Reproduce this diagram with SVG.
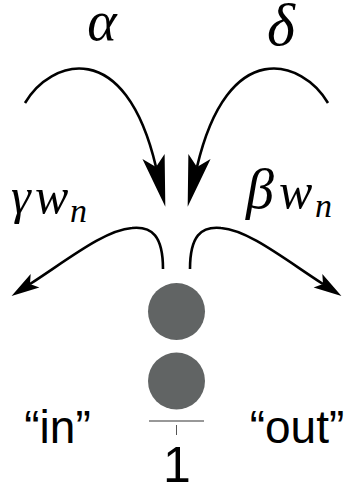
<svg xmlns="http://www.w3.org/2000/svg" width="349" height="485" viewBox="0 0 349 485">
<style>
.arr{fill:none;stroke:#000;stroke-width:2.6}
.m{font-family:"Liberation Serif",serif;font-style:italic;fill:#000}
.s{font-family:"Liberation Sans",sans-serif;fill:#000}
.dot{fill:#616464}
</style>
<defs>
<marker id="big" markerUnits="userSpaceOnUse" orient="auto" refX="0" refY="0" markerWidth="60" markerHeight="30" viewBox="-12 -12 50 24" overflow="visible">
<path d="M34,0 L-9,-9.5 L0,0 L-9,9.5 Z" fill="#000"/>
</marker>
<marker id="small" markerUnits="userSpaceOnUse" orient="auto" refX="0" refY="0" markerWidth="40" markerHeight="20" viewBox="-8 -10 34 20" overflow="visible">
<path d="M22,0 L-6,-8 L0,0 L-6,8 Z" fill="#000"/>
</marker>
</defs>
<g id="connectors">
<path class="arr" d="M25,103 C50,60 125,35 156,167" marker-end="url(#big)"/>
<path class="arr" d="M328,103 C303,60 228,35 197,167" marker-end="url(#big)"/>
<path class="arr" d="M163,269 C163,236 152,226 132,228 C105,230 70,258 30,284" marker-end="url(#small)"/>
<path class="arr" d="M190,269 C190,236 201,226 221,228 C248,230 283,258 323,284" marker-end="url(#small)"/>
</g>
<g id="label-alpha"><text class="m" x="102" y="40" font-size="56" text-anchor="middle">α</text></g>
<g id="label-delta"><text class="m" x="281" y="45" font-size="60" text-anchor="middle">δ</text></g>
<g id="label-gamma"><text class="m" y="213" font-size="50"><tspan x="11">γ</tspan><tspan x="35">w</tspan><tspan x="70" dy="9" font-size="34">n</tspan></text></g>
<g id="label-beta"><text class="m" y="208" font-size="50"><tspan x="246" font-size="56">β</tspan><tspan x="279">w</tspan><tspan x="315" dy="9" font-size="34">n</tspan></text></g>
<g id="node-top"><circle class="dot" cx="176.5" cy="311.5" r="28.5"/></g>
<g id="node-bottom"><circle class="dot" cx="176.5" cy="381" r="28.5"/></g>
<g id="axis">
<line x1="149" y1="421" x2="204" y2="421" stroke="#333" stroke-width="1.2"/>
<line x1="176.5" y1="425" x2="176.5" y2="435" stroke="#555" stroke-width="1"/>
</g>
<g id="label-in"><text class="s" x="57.5" y="443" font-size="46" text-anchor="middle">“in”</text></g>
<g id="label-out"><text class="s" x="297" y="443" font-size="46" text-anchor="middle">“out”</text></g>
<g id="label-one"><text class="s" x="177" y="482" font-size="50" text-anchor="middle">1</text></g>
</svg>
